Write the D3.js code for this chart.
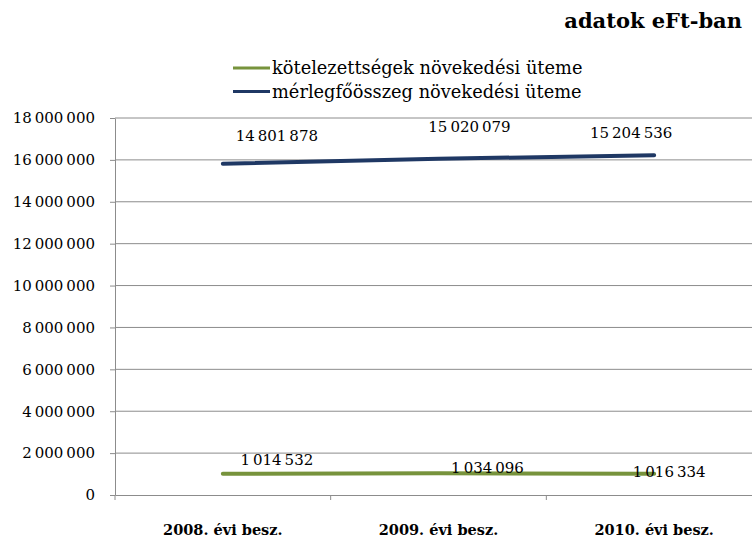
<!DOCTYPE html>
<html>
<head>
<meta charset="utf-8">
<script src="https://cdn.jsdelivr.net/npm/d3@7"></script>
<style>
  html, body { margin: 0; padding: 0; background: #fff; }
  svg { display: block; }
  svg text { font-family: "DejaVu Serif", serif; fill: #000; }
</style>
</head>
<body>
<svg id="chart" width="752" height="537"></svg>
<script>
// Source figures (thousand HUF)
const categories = ["2008. évi besz.", "2009. évi besz.", "2010. évi besz."];
const seriesNames = ["kötelezettségek növekedési üteme", "mérlegfőösszeg növekedési üteme"];
const kotelezettsegek = [1014532, 1034096, 1016334];
const merlegfoosszeg = [14801878, 15020079, 15204536];
const yTicks = [0, 2000000, 4000000, 6000000, 8000000, 10000000, 12000000, 14000000, 16000000, 18000000];
const colors = ["#77933c", "#1f3864"];

const svg = d3.select("#chart");
const margin = { left: 115, top: 118, right: 762, bottom: 495 };

const rows = categories.map((c, i) => ({ cat: c, k: kotelezettsegek[i], m: merlegfoosszeg[i] }));
const stacked = d3.stack().keys(["k", "m"])(rows);

const x = d3.scaleBand().domain(categories).range([margin.left, margin.right]);
const y = d3.scaleLinear().domain([0, 18000000]).range([margin.bottom, margin.top]);

const fmt = v => d3.format(",")(v).replace(/,/g, "\u2009");
const grey = "#8c8c8c";

// Horizontal gridlines
svg.append("g")
  .selectAll("line")
  .data(yTicks.filter(t => t > 0))
  .join("line")
  .attr("x1", margin.left).attr("x2", margin.right)
  .attr("y1", d => y(d)).attr("y2", d => y(d))
  .attr("stroke", grey).attr("stroke-width", 1);

// Y axis
const yAxis = svg.append("g")
  .attr("transform", `translate(${margin.left},0)`)
  .call(d3.axisLeft(y).tickValues(yTicks).tickSize(5).tickSizeOuter(0).tickPadding(15).tickFormat(fmt));
yAxis.attr("font-family", null).attr("font-size", null);
yAxis.select(".domain").attr("stroke", grey);
yAxis.selectAll(".tick line").attr("stroke", grey);
yAxis.selectAll(".tick text").style("font-size", "15px").attr("fill", "#000");

// X axis
const xAxis = svg.append("g")
  .attr("transform", `translate(0,${margin.bottom})`)
  .call(d3.axisBottom(x).tickSize(0).tickSizeOuter(0).tickPadding(0));
xAxis.attr("font-family", null).attr("font-size", null);
xAxis.select(".domain").attr("stroke", grey);
xAxis.selectAll(".tick text")
  .attr("y", 40).attr("dy", null)
  .style("font-size", "14.5px").style("font-weight", "bold").attr("fill", "#000");
// category boundary ticks
svg.append("g")
  .selectAll("line")
  .data(categories)
  .join("line")
  .attr("x1", d => x(d)).attr("x2", d => x(d))
  .attr("y1", margin.bottom).attr("y2", margin.bottom + 5)
  .attr("stroke", grey);

// Stacked lines
const cx = d => x(d.data.cat) + x.bandwidth() / 2;
const line = d3.line().x(cx).y(d => y(d[1]));
svg.append("g")
  .selectAll("path")
  .data(stacked)
  .join("path")
  .attr("d", line)
  .attr("fill", "none")
  .attr("stroke", (d, i) => colors[i])
  .attr("stroke-width", 4)
  .attr("stroke-linecap", "round");

// Data labels (offsets relative to each point)
const labelOffsets = [
  [[54, -9], [49, 0], [15, 3]],
  [[54, -23], [31, -27], [-23, -17]]
];
stacked.forEach((s, si) => {
  svg.append("g")
    .selectAll("text")
    .data(s)
    .join("text")
    .attr("x", (d, i) => cx(d) + labelOffsets[si][i][0])
    .attr("y", (d, i) => y(d[1]) + labelOffsets[si][i][1])
    .attr("text-anchor", "middle")
    .style("font-size", "15px")
    .text(d => fmt(d.data[s.key]));
});

// Legend
const legend = svg.append("g");
seriesNames.forEach((name, i) => {
  const ly = 68 + i * 23.5;
  legend.append("line")
    .attr("x1", 233).attr("x2", 270)
    .attr("y1", ly).attr("y2", ly)
    .attr("stroke", colors[i]).attr("stroke-width", 3);
  legend.append("text")
    .attr("x", 272).attr("y", ly + 6)
    .style("font-size", "17.8px")
    .text(name);
});

// Unit note
svg.append("text")
  .attr("x", 742).attr("y", 28)
  .attr("text-anchor", "end")
  .style("font-size", "21px").style("font-weight", "bold")
  .text("adatok eFt-ban");
</script>
</body>
</html>
